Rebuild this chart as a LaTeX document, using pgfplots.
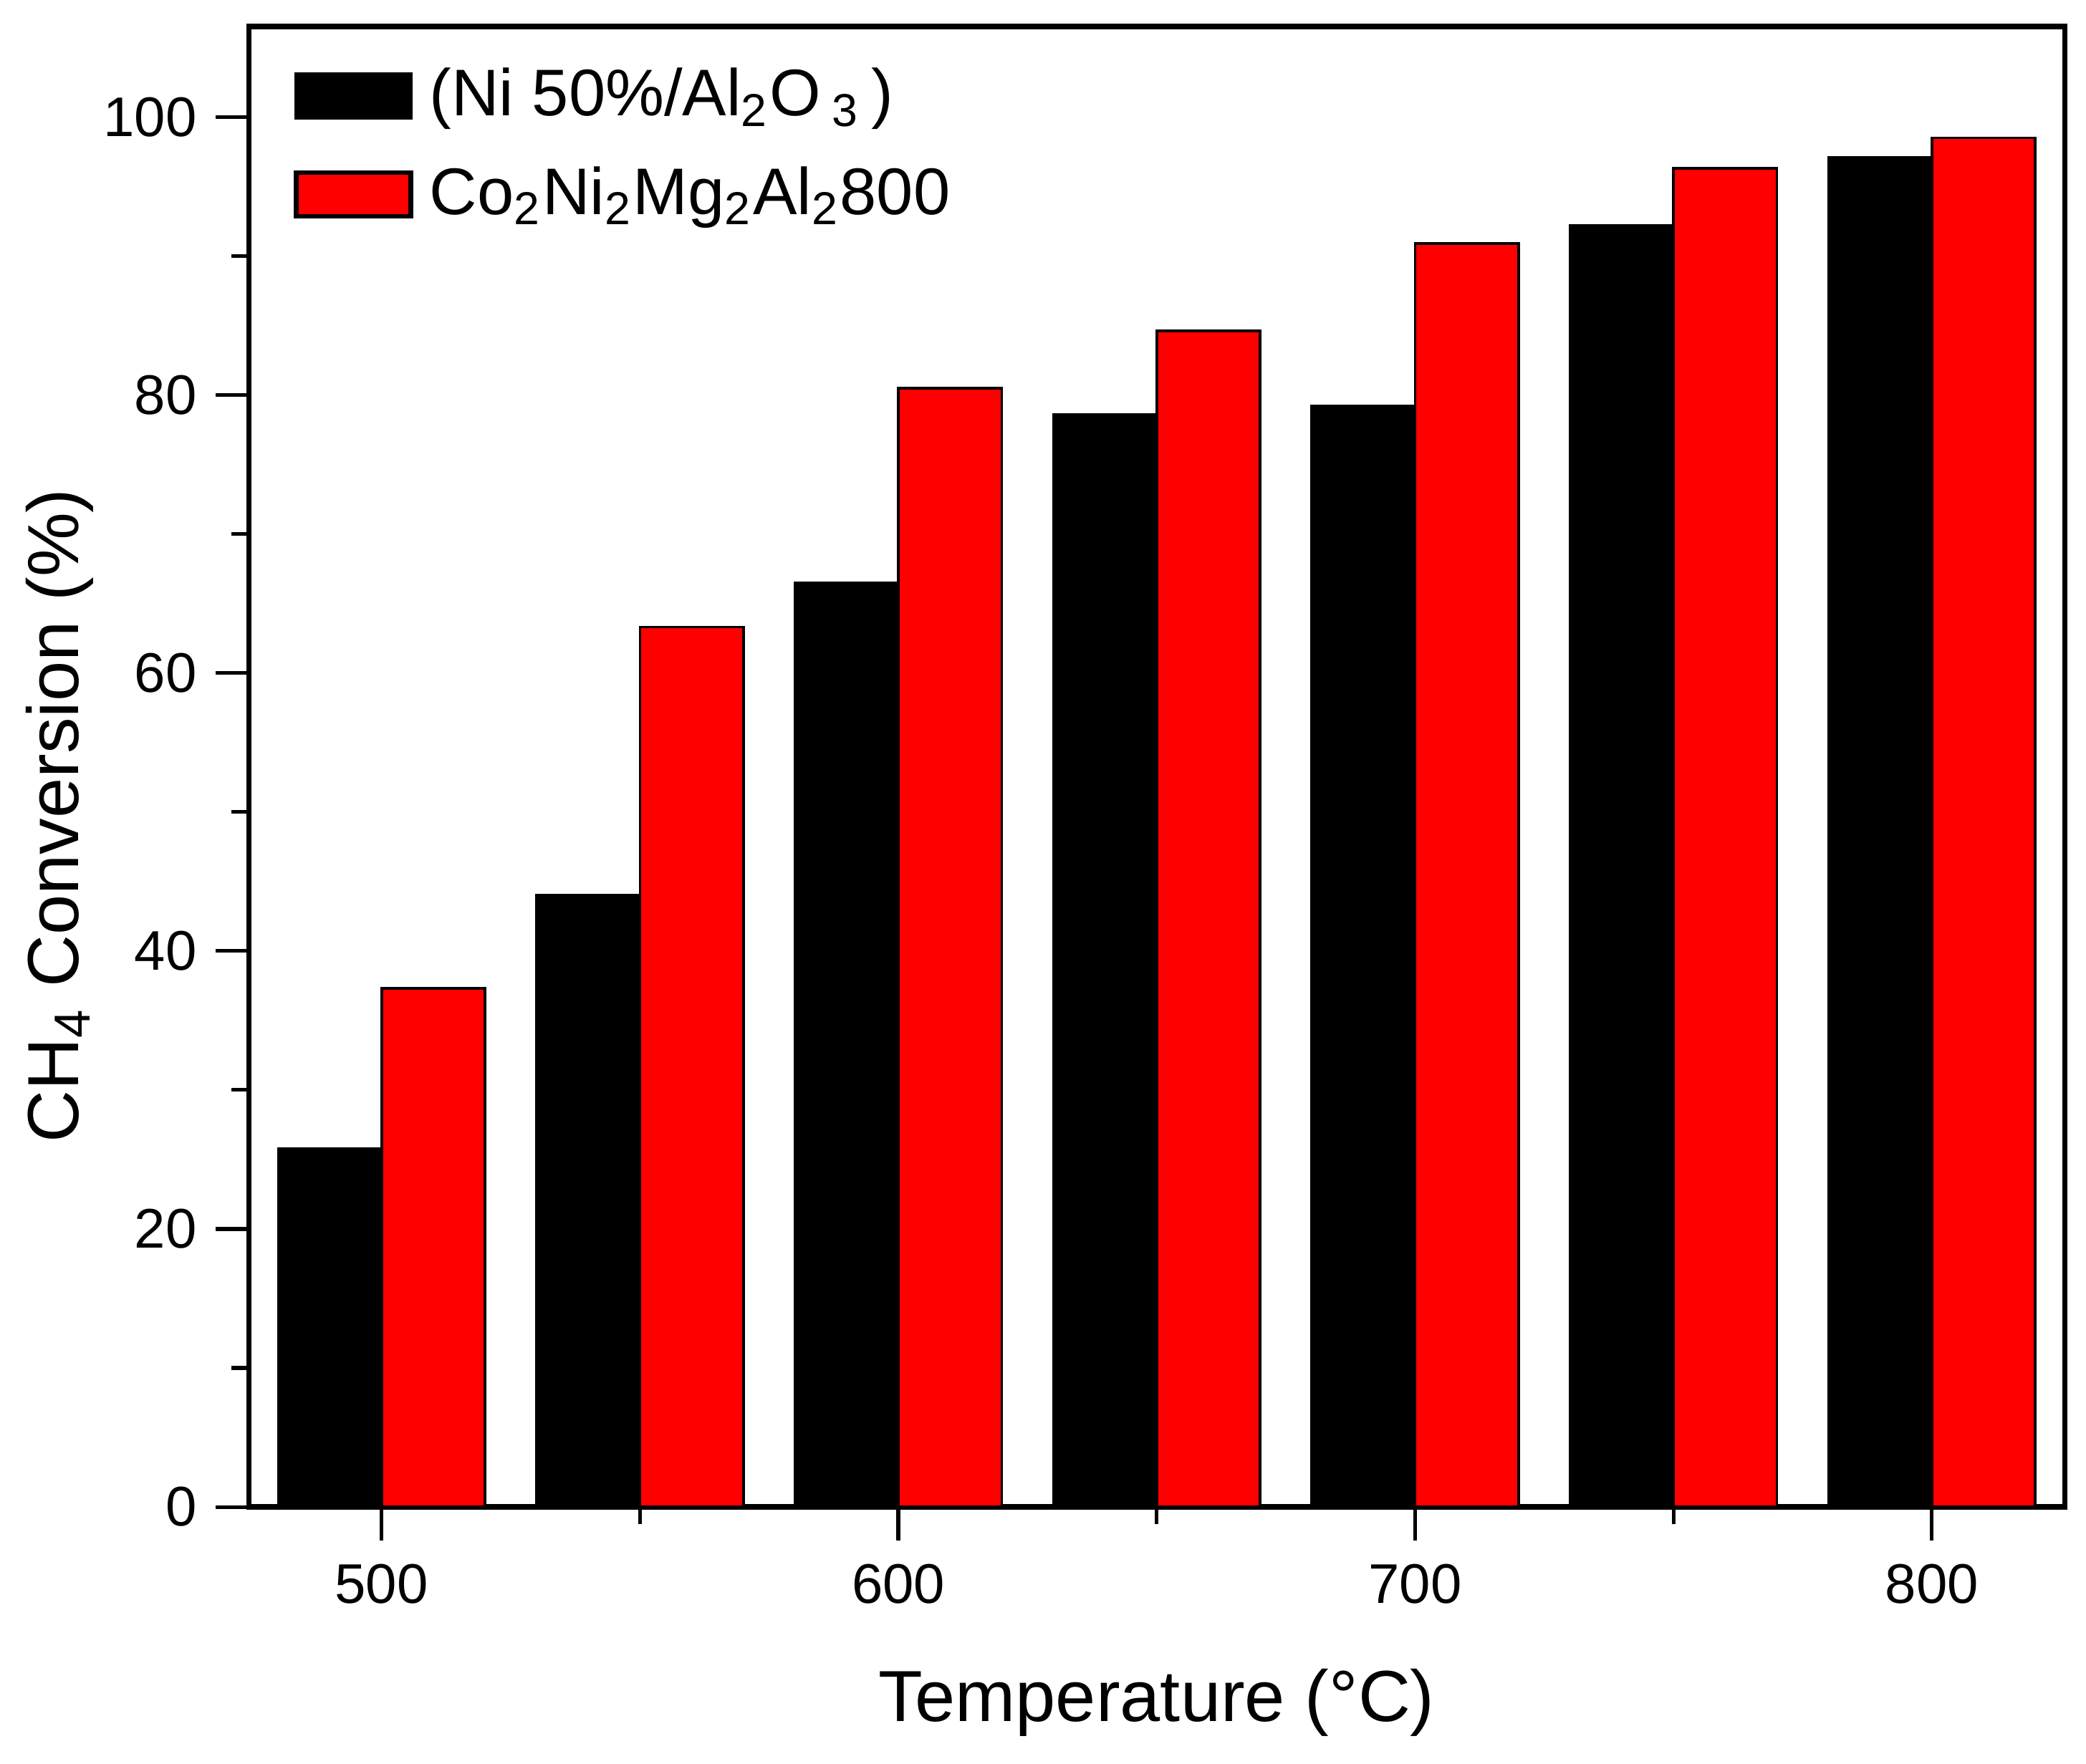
\documentclass[border=0pt]{standalone}
\usepackage{fontspec}
\setmainfont{Liberation Sans}
\usepackage{pgfplots}
\pgfplotsset{compat=1.18}
\usetikzlibrary{calc}
\begin{document}
\begin{tikzpicture}
\begin{axis}[
 name=ax, at={(0,0)}, anchor=south west,
 scale only axis, width=341.25pt, height=278.25pt,
 xmin=474.3, xmax=825.7, ymin=0, ymax=106.5,
 ybar, bar width=20,
 xtick={500,600,700,800}, minor xtick={550,650,750},
 ytick={0,20,...,100}, minor ytick={10,30,...,90},
 tick align=outside, tick pos=left,
 major tick length=6.25pt, minor tick length=3.25pt,
 axis line style={line width=1pt},
 every tick/.style={black, line width=0.7pt},
 tick label style={font=\fontsize{10.5}{12}\selectfont},
 xticklabel style={yshift=-1pt},
 /pgf/number format/assume math mode=true,
 xlabel={Temperature (°C)},
 ylabel={CH\textsubscript{4} Conversion (\%)},
 every axis y label/.style={at={(axis description cs:-0.104,0.467)}, rotate=90, anchor=center, font=\fontsize{13.6}{16}\selectfont},
 every axis x label/.style={at={(axis description cs:0.5,0)}, yshift=-36.75pt, anchor=center, font=\fontsize{13.6}{16}\selectfont},
 legend style={draw=none, fill=none, at={(axis description cs:0.0155,0.987)}, anchor=north west,
   font=\fontsize{12.4}{15}\selectfont, row sep=4pt, legend cell align=left},
]
\addplot[fill=black, draw=black, line width=0.5pt, bar shift=-10,
  legend image code/.code={\draw[fill=black,draw=black,line width=0.6pt] (0pt,-4.1pt) rectangle (21.5pt,4.1pt); \path (22.8pt,0pt);}]
 coordinates {(500,25.8) (550,44.0) (600,66.5) (650,78.6) (700,79.2) (750,92.2) (800,97.1)};
\addlegendentry{(Ni 50\%/Al\textsubscript{2}O\,\textsubscript{3}\,)}
\addplot[fill=red, draw=black, line width=0.5pt, bar shift=10,
  legend image code/.code={\draw[fill=red,draw=black,line width=0.9pt] (0pt,-4.1pt) rectangle (21.5pt,4.1pt); \path (22.8pt,0pt);}]
 coordinates {(500,37.3) (550,63.3) (600,80.5) (650,84.6) (700,90.9) (750,96.3) (800,98.5)};
\addlegendentry{Co\textsubscript{2}Ni\textsubscript{2}Mg\textsubscript{2}Al\textsubscript{2}800}
\end{axis}
\pgfresetboundingbox
\path ($(ax.south west)+(-46.75pt,-48.25pt)$) rectangle ($(ax.north east)+(4pt,5pt)$);
\end{tikzpicture}
\end{document}
